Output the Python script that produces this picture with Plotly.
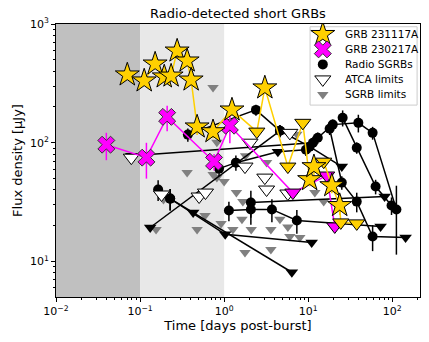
import plotly.graph_objects as go

# ---------------- data ----------------
# GRB 231117A (ul=1 -> upper limit)
g_t = [0.0705, 0.112, 0.151, 0.194, 0.234, 0.276, 0.363, 0.405, 0.477, 0.738, 1.24, 2.45, 3.05, 5.73, 8.63, 10.4, 11.7, 15.3, 19.1, 23.7, 24.4, 37.8]
g_f = [373, 332, 461, 359, 365, 593, 489, 338, 136, 124, 189, 124, 290, 62.9, 147, 48.9, 62.9, 69.2, 43.5, 29.6, 21.3, 20.9]
g_ul = [0, 0, 0, 0, 0, 0, 0, 0, 0, 0, 0, 1, 0, 1, 1, 0, 0, 1, 0, 0, 1, 1]
g_e = [30, 30, 40, 30, 30, 50, 40, 30, 20, 15, 20, 0, 25, 0, 0, 6, 10, 0, 6, 5, 0, 0]

# GRB 230217A
m_t = [0.0397, 0.119, 0.210, 0.759, 1.17, 6.57, 16.6, 20.7]
m_f = [96.2, 74.8, 165, 69.2, 139, 38.0, 52.9, 19.7]
m_ul = [0, 0, 0, 0, 0, 1, 1, 1]
m_e = [25, 25, 40, 11, 40, 0, 0, 0]

# ATCA limits
a_t = [0.0787, 0.18, 0.504, 0.60, 1.77, 2.03, 3.05, 3.2, 5.73, 6.05]
a_f = [74.8, 36.6, 35.2, 38.0, 62.9, 100, 50.8, 40.3, 37.3, 121]

# SGRB limits (grey)
s_t = [0.738, 0.82, 0.363, 0.82, 0.155, 0.477, 1.27, 1.77, 1.8, 0.593, 0.92, 1.4, 1.67, 0.19, 3.2,
       1.63, 2.1, 3.6, 4.61, 6.05, 5.73, 7.95, 7.33, 12.0, 15.3, 1.0, 0.74, 3.6]
s_f = [292, 101, 56, 50.8, 18.6, 18.6, 18.6, 11.9, 77.5, 24.4, 20.9, 38, 31.9, 33.2, 68,
       22.6, 18.6, 12.6, 22.6, 16.2, 19.5, 15.9, 118, 38, 31.9, 47, 53.9, 18.6]

# Radio-detected SGRB light curves
sg1_t = [0.37, 2.39, 4.61, 10.4, 25.1];   sg1_f = [117, 189, 126, 92.5, 62.9];  sg1_ul = [0, 0, 0, 0, 1]; sg1_e = [15, 20, 15, 10, 0]
sg2_t = [0.132, 4.61];                    sg2_f = [19.3, 126];                  sg2_ul = [1, 0];          sg2_e = [0, 15]
sg3_t = [0.164, 0.228, 1.03, 11.0];       sg3_f = [40.3, 33.8, 16.9, 14.4];     sg3_ul = [0, 0, 1, 1];    sg3_e = [8, 7, 0, 0]
sg4_t = [0.228, 0.428, 6.39];             sg4_f = [33.8, 25.8, 8.1];            sg4_ul = [0, 1, 1];       sg4_e = [7, 0, 0]
sg5_t = [0.0787, 11.4];                   sg5_f = [77.8, 100];                  sg5_ul = [1, 0];          sg5_e = [0, 12]
sg6_t = [0.87, 1.38, 4.36, 9.4];          sg6_f = [60.5, 67.9, 84.0, 87.3];     sg6_ul = [0, 0, 1, 0];    sg6_e = [8, 10, 0, 10]
sg7_t = [13.0, 19.6, 39.5, 58.4, 112];    sg7_f = [110, 142, 147, 121, 27.4];   sg7_ul = [0, 0, 0, 0, 0]; sg7_e = [12, 15, 25, 15, 16]
sg8_t = [18.0, 25.1, 37.8, 58.4, 144];    sg8_f = [131, 46.1, 31.9, 16.2, 15.9]; sg8_ul = [0, 0, 0, 0, 1]; sg8_e = [15, 6, 6, 4, 0]
sg9_t = [25.7, 37.8, 63.4, 98];           sg9_f = [162, 90.7, 42.7, 29.6];      sg9_ul = [0, 0, 0, 0];    sg9_e = [25, 10, 6, 5]
sg10_t = [1.14, 2.08, 3.7, 7.33, 72.6];   sg10_f = [26.8, 27.4, 27.4, 22.1, 19.7]; sg10_ul = [0, 0, 0, 0, 1]; sg10_e = [5, 7, 6, 5, 0]
sg11_t = [2.08, 81.1];                    sg11_f = [31.3, 35.2];                sg11_ul = [0, 1];         sg11_e = [8, 0]

tracks = [(sg1_t, sg1_f, sg1_ul, sg1_e), (sg2_t, sg2_f, sg2_ul, sg2_e), (sg3_t, sg3_f, sg3_ul, sg3_e),
          (sg4_t, sg4_f, sg4_ul, sg4_e), (sg5_t, sg5_f, sg5_ul, sg5_e), (sg6_t, sg6_f, sg6_ul, sg6_e),
          (sg7_t, sg7_f, sg7_ul, sg7_e), (sg8_t, sg8_f, sg8_ul, sg8_e), (sg9_t, sg9_f, sg9_ul, sg9_e),
          (sg10_t, sg10_f, sg10_ul, sg10_e), (sg11_t, sg11_f, sg11_ul, sg11_e)]

legend_labels = ["GRB 231117A", "GRB 230217A", "Radio SGRBs", "ATCA limits", "SGRB limits"]

x_tickvals = [0.01, 0.1, 1, 10, 100]
x_ticktext = ["10<sup>−2</sup>", "10<sup>−1</sup>", "10<sup>0</sup>", "10<sup>1</sup>", "10<sup>2</sup>"]
y_tickvals = [10, 100, 1000]
y_ticktext = ["10<sup>1</sup>", "10<sup>2</sup>", "10<sup>3</sup>"]

GOLD = "#FFD000"
MAG = "#FF00FF"
FONT = "DejaVu Sans"

# marker styles shared by plot and legend keys
STAR = dict(symbol="star", size=18, color=GOLD, line=dict(color="black", width=1))
CROSS = dict(symbol="x", size=15, color=MAG, line=dict(color="#333333", width=1))
DOT = dict(symbol="circle", size=10, color="black")
ATCA = dict(symbol="triangle-down", size=14, color="white", line=dict(color="black", width=1))
GREY = dict(symbol="triangle-down", size=10, color="#808080", line=dict(width=0))
legend_styles = [STAR, CROSS, DOT, ATCA, GREY]


def pick(vals, mask, want):
    return [v for v, m in zip(vals, mask) if m == want]


fig = go.Figure()

# shaded time windows
fig.add_vrect(x0=0.01, x1=0.1, fillcolor="#c0c0c0", line_width=0, layer="below")
fig.add_vrect(x0=0.1, x1=1.0, fillcolor="#e8e8e8", line_width=0, layer="below")

# grey SGRB limits
fig.add_trace(go.Scatter(x=s_t, y=s_f, mode="markers", name="SGRB limits", marker=GREY))

# black SGRB tracks
for i, (t, f, ul, e) in enumerate(tracks):
    fig.add_trace(go.Scatter(x=t, y=f, mode="lines", line=dict(color="black", width=1.5), hoverinfo="skip"))
    fig.add_trace(go.Scatter(x=pick(t, ul, 0), y=pick(f, ul, 0), mode="markers", name="Radio SGRBs",
                             error_y=dict(type="data", array=pick(e, ul, 0), color="black", thickness=1.5, width=0),
                             marker=DOT))
    if any(ul):
        fig.add_trace(go.Scatter(x=pick(t, ul, 1), y=pick(f, ul, 1), mode="markers",
                                 marker=dict(symbol="triangle-down", size=11, color="black")))

# ATCA limits
fig.add_trace(go.Scatter(x=a_t, y=a_f, mode="markers", name="ATCA limits", marker=ATCA))

# GRB 230217A
fig.add_trace(go.Scatter(x=m_t, y=m_f, mode="lines", line=dict(color=MAG, width=1.5), hoverinfo="skip"))
fig.add_trace(go.Scatter(x=pick(m_t, m_ul, 0), y=pick(m_f, m_ul, 0), mode="markers", name="GRB 230217A",
                         error_y=dict(type="data", array=pick(m_e, m_ul, 0), color=MAG, thickness=1.5, width=0),
                         marker=CROSS))
fig.add_trace(go.Scatter(x=pick(m_t, m_ul, 1), y=pick(m_f, m_ul, 1), mode="markers",
                         marker=dict(symbol="triangle-down", size=14, color=MAG, line=dict(color="black", width=1))))

# GRB 231117A
fig.add_trace(go.Scatter(x=g_t, y=g_f, mode="lines", line=dict(color=GOLD, width=1.5), hoverinfo="skip"))
fig.add_trace(go.Scatter(x=pick(g_t, g_ul, 1), y=pick(g_f, g_ul, 1), mode="markers",
                         marker=dict(symbol="triangle-down", size=14, color=GOLD, line=dict(color="black", width=1))))
fig.add_trace(go.Scatter(x=pick(g_t, g_ul, 0), y=pick(g_f, g_ul, 0), mode="markers", name="GRB 231117A",
                         error_y=dict(type="data", array=pick(g_e, g_ul, 0), color=GOLD, thickness=1.5, width=0),
                         marker=STAR))

# ---- compact legend (matplotlib-like spacing) drawn on an overlay axis in plot-fraction units ----
box_x0, box_x1, box_y0, box_y1 = 0.698, 0.992, 0.703, 0.990
key_x, text_x = 0.733, 0.788
row_y = [0.962, 0.907, 0.852, 0.797, 0.742]
fig.add_trace(go.Scatter(x=[box_x0, box_x1, box_x1, box_x0, box_x0], y=[box_y0, box_y0, box_y1, box_y1, box_y0],
                         xaxis="x2", yaxis="y2", mode="lines", fill="toself",
                         fillcolor="rgba(255,255,255,0.85)", line=dict(color="#cccccc", width=1), hoverinfo="skip"))
for lab, sty, yy in zip(legend_labels, legend_styles, row_y):
    fig.add_trace(go.Scatter(x=[key_x], y=[yy], xaxis="x2", yaxis="y2", mode="markers", marker=sty, name=lab))
    fig.add_annotation(x=text_x, y=yy, xref="x2", yref="y2", text=lab, showarrow=False,
                       xanchor="left", yanchor="middle", font=dict(family=FONT, size=10.5, color="black"))

axis_common = dict(type="log", showline=True, linecolor="black", linewidth=1, mirror=True,
                   ticks="outside", ticklen=4, tickcolor="black", showgrid=False, zeroline=False,
                   minor=dict(ticks="outside", ticklen=2, tickcolor="black", showgrid=False, dtick="D1"),
                   tickfont=dict(family=FONT, size=11, color="black"))
title_font = dict(family=FONT, size=13, color="black")

xaxis_cfg = dict(axis_common, range=[-2, 2.33], tickvals=x_tickvals, ticktext=x_ticktext,
                 title=dict(text="Time [days post-burst]", standoff=3, font=title_font))
yaxis_cfg = dict(axis_common, range=[0.7, 3], tickvals=y_tickvals, ticktext=y_ticktext,
                 title=dict(text="Flux density [μJy]", standoff=4, font=title_font))

# page body has an 8px margin: figure is shifted by (8, 8) inside the 429x342 window
fig.update_layout(
    width=421, height=334,
    margin=dict(l=48, r=9, t=16, b=45),
    paper_bgcolor="white", plot_bgcolor="white",
    xaxis=xaxis_cfg,
    yaxis=yaxis_cfg,
    xaxis2=dict(overlaying="x", range=[0, 1], visible=False, fixedrange=True),
    yaxis2=dict(overlaying="y", range=[0, 1], visible=False, fixedrange=True),
    title=dict(text="Radio-detected short GRBs", x=0.5, xref="paper", xanchor="center",
               y=1, yref="container", yanchor="top", pad=dict(t=1),
               font=title_font),
    showlegend=False,
)

fig.write_html("out.html")
